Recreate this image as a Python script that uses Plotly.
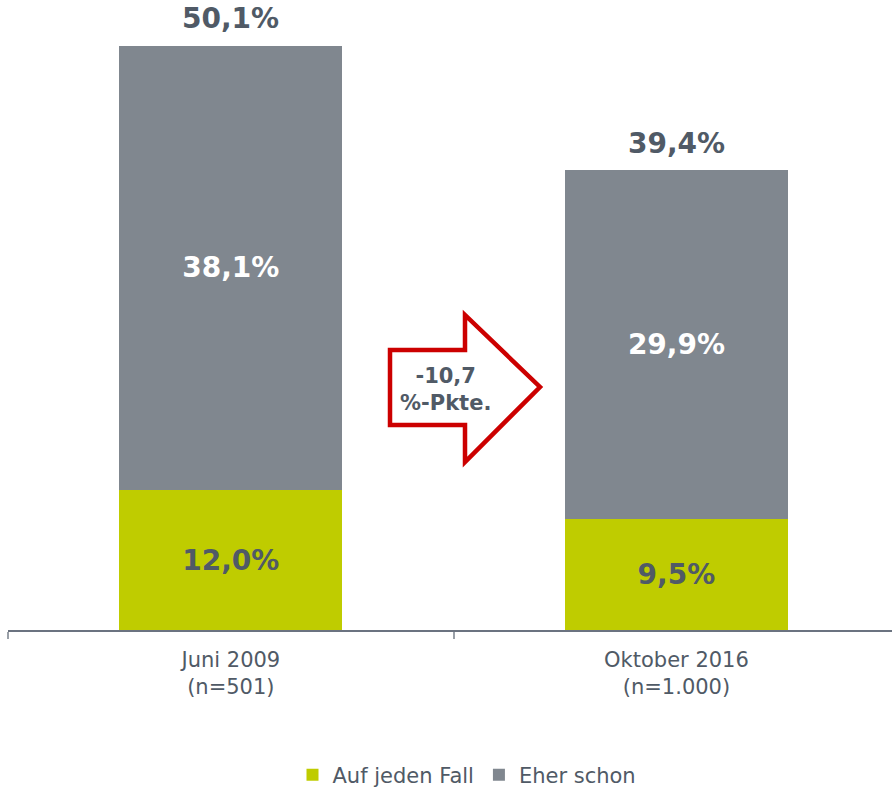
import plotly.graph_objects as go

categories = ["Juni 2009<br>(n=501)", "Oktober 2016<br>(n=1.000)"]
auf_jeden_fall = [12.0, 9.5]
eher_schon = [38.1, 29.9]
totals = [50.1, 39.4]
change_label = "-10,7<br>%-Pkte."
legend_names = ["Auf jeden Fall", "Eher schon"]

def fmt(v):
    return f"{v:.1f}%".replace(".", ",")

GREEN = "#BFCC00"
GRAY = "#80878F"
DARK = "#505A66"
FONT = "Verdana, DejaVu Sans, sans-serif"
LABEL_SIZE = 28

fig = go.Figure()
fig.add_trace(go.Bar(
    x=categories, y=auf_jeden_fall, name=legend_names[0],
    marker=dict(color=GREEN, line=dict(width=0)), width=0.5,
    text=[fmt(v) for v in auf_jeden_fall], textposition="inside",
    insidetextanchor="middle",
    textfont=dict(family=FONT, size=LABEL_SIZE, color=DARK, weight="bold"),
))
fig.add_trace(go.Bar(
    x=categories, y=eher_schon, name=legend_names[1],
    marker=dict(color=GRAY, line=dict(width=0)), width=0.5,
    text=[fmt(v) for v in eher_schon], textposition="inside",
    insidetextanchor="middle",
    textfont=dict(family=FONT, size=LABEL_SIZE, color="white", weight="bold"),
))
for cat, tot in zip(categories, totals):
    fig.add_annotation(x=cat, y=tot, text=fmt(tot), showarrow=False,
                       yanchor="bottom", yshift=8,
                       font=dict(family=FONT, size=LABEL_SIZE, color=DARK, weight="bold"))

# arrow (paper coords; plot spans page y 0..630, x 8..892)
def px(x):
    return (x - 8) / 884
def py(y):
    return (630 - y) / 630

x0, x1, x2 = px(390), px(465), px(540)
yb_top, yb_bot, yh_top, yh_bot, ytip = py(350), py(425), py(315), py(462), py(387)
path = (f"M {x0} {yb_top} L {x1} {yb_top} L {x1} {yh_top} L {x2} {ytip} "
        f"L {x1} {yh_bot} L {x1} {yb_bot} L {x0} {yb_bot} Z")
fig.add_shape(type="path", path=path, xref="paper", yref="paper",
              line=dict(color="#CC0000", width=4.5), fillcolor="white")
fig.add_annotation(x=px(445), y=py(389), xref="paper", yref="paper",
                   text=change_label, showarrow=False,
                   font=dict(family=FONT, size=21, color=DARK, weight="bold"),
                   align="center")

fig.update_layout(
    barmode="stack",
    width=892, height=787,
    margin=dict(l=8, r=0, t=0, b=157, autoexpand=False),
    plot_bgcolor="white", paper_bgcolor="white",
    showlegend=True,
    legend=dict(orientation="h", x=px(467), xanchor="center", y=py(775), yanchor="middle",
                font=dict(family=FONT, size=21, color=DARK), itemwidth=30,
                traceorder="normal"),
    bargap=0.5,
)
fig.update_xaxes(range=[-0.5, 1.4837], showline=True, linecolor="#6B7380", linewidth=1.5,
                 ticks="outside", tickson="boundaries", ticklen=7, tickcolor="#9AA0A8",
                 tickwidth=1.5, ticklabelstandoff=10,
                 tickfont=dict(family=FONT, size=21, color=DARK), showgrid=False)
fig.update_yaxes(visible=False, range=[0, 630 / (140 / 12.0)], showgrid=False)

fig.write_html("out.html", config={"displayModeBar": False},
               post_script="document.body.style.margin='0';document.body.style.overflow='hidden';")
